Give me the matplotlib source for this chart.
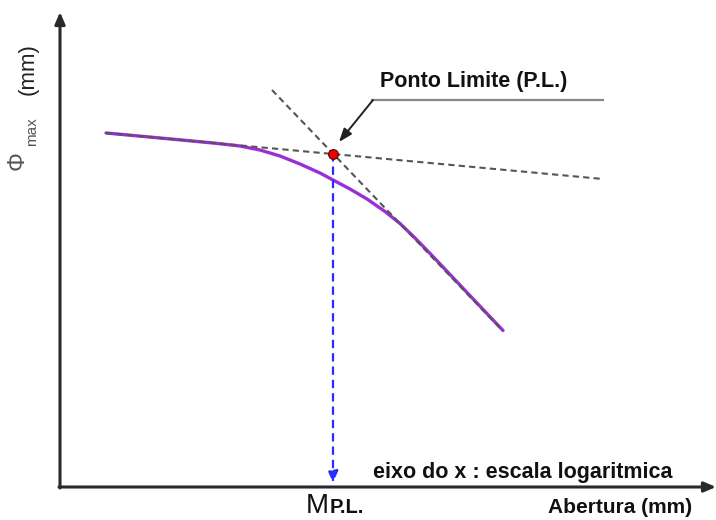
import matplotlib.pyplot as plt

plt.rcParams['font.family'] = ['Liberation Sans', 'DejaVu Sans']

# schematic drawn in picture units (x to the right, y downwards)
curve_x = [106, 130, 160, 190, 215, 240, 260, 280, 300, 320, 333, 350, 367,
           385, 400, 415, 433, 450, 467, 485, 503]
curve_y = [133, 135.2, 138, 140.8, 143.2, 146, 150, 156, 164, 173, 180, 189, 199,
           211.5, 223.5, 238, 256.5, 274.5, 292.5, 311.5, 330.5]

tangent1_x = [106, 603]
tangent1_y = [133, 179]
tangent2_x = [272, 500]
tangent2_y = [90, 328]

limit_point = (333, 154)
axis_origin = (60, 487)
x_axis_end = 716
y_axis_end = 12

fig = plt.figure(figsize=(7.16, 5.2), dpi=100)
ax = fig.add_axes([0, 0, 1, 1])
ax.set_xlim(0, 716)
ax.set_ylim(520, 0)
ax.axis('off')

# axes with arrows
axis_arrow = dict(arrowstyle='-|>,head_length=0.7,head_width=0.3', color='#2a2a2a', lw=2.2,
                  shrinkA=0, shrinkB=0)
ax.annotate('', xy=(x_axis_end, axis_origin[1]), xytext=(axis_origin[0] - 1, axis_origin[1]),
            arrowprops=axis_arrow)
ax.annotate('', xy=(axis_origin[0], y_axis_end), xytext=(axis_origin[0], axis_origin[1] + 1),
            arrowprops=axis_arrow)

# curve
ax.plot(curve_x, curve_y, color='#9b2fd6', lw=2.4, solid_capstyle='round', solid_joinstyle='round',
        zorder=2)

# tangents (drawn over the curve)
ax.plot(tangent1_x, tangent1_y, ls=(0, (3, 2)), color='#555555', lw=1.5, zorder=3)
ax.plot(tangent2_x, tangent2_y, ls=(0, (3, 2)), color='#555555', lw=1.5, zorder=3)

# projection of the limit point onto the x axis
ax.annotate('', xy=(limit_point[0], axis_origin[1] - 4), xytext=limit_point,
            arrowprops=dict(arrowstyle='-|>,head_length=0.7,head_width=0.3', color='#2b2bff', lw=1.6,
                            ls=(0, (3, 3)), shrinkA=0, shrinkB=0))

ax.plot(*limit_point, 'o', color='#ee0000', mec='#550000', mew=0.8, ms=7, zorder=5)

# label of the limit point
ax.plot([372, 603], [100, 100], color='#888888', lw=1.6)
ax.annotate('', xy=(339, 142), xytext=(373, 100),
            arrowprops=dict(arrowstyle='-|>,head_length=0.8,head_width=0.3', color='#222222', lw=1.4,
                            shrinkA=0, shrinkB=0))
ax.text(380, 87, 'Ponto Limite (P.L.)', fontsize=15.5, fontweight='bold', color='#111111',
        ha='left', va='baseline')

ax.text(373, 478, 'eixo do x : escala logaritmica', fontsize=15.5, fontweight='bold',
        color='#111111', ha='left', va='baseline')
ax.text(548, 513, 'Abertura (mm)', fontsize=15, fontweight='bold', color='#111111',
        ha='left', va='baseline')
ax.text(306, 513, 'M', fontsize=20, color='#111111', ha='left', va='baseline')
ax.text(330, 513, 'P.L.', fontsize=14.5, fontweight='bold', color='#111111', ha='left', va='baseline')

# y label
ax.text(28, 69, '(mm)', fontsize=16, color='#222222', rotation=90, ha='center', va='center')
ax.text(18, 161, 'Φ', fontsize=17, color='#555555', rotation=90, ha='center', va='center')
ax.text(32, 132, 'max', fontsize=11, color='#555555', rotation=90, ha='center', va='center')

fig.savefig('out.png', dpi=100)
